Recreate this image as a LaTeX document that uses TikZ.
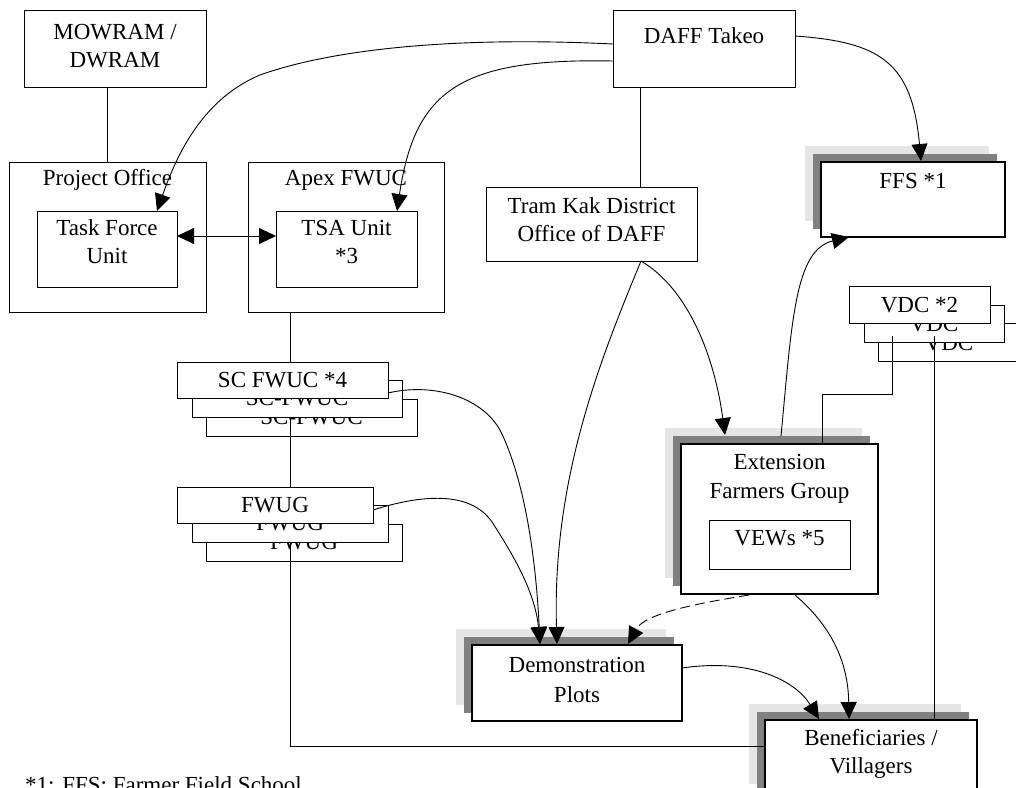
\documentclass[tikz,border=0pt]{standalone}
\usepackage{fontspec}
\setmainfont{Liberation Serif}
\usetikzlibrary{arrows.meta,calc,shadows}
\definecolor{lg}{gray}{0.9}
\definecolor{dg}{gray}{0.5}
\newcommand\bx[6]{\node[#1, minimum width={#5-#3}, minimum height={#6-#4}] (#2) at (#3,#4) {};}
\newcommand\lbl[4]{\node[lbltxt] (#1) at (#2,#3) {#4};}
\begin{document}
\begin{tikzpicture}[x=1pt,y=-1pt,
  every node/.style={font=\fontsize{23}{27.5}\selectfont},
  boxa/.style={draw, line width=0.9pt, fill=white, inner sep=0pt, outer sep=0pt, anchor=north west},
  sbox/.style={boxa, line width=2.6pt,
     general shadow={fill=lg, shadow xshift=-16pt, shadow yshift=16pt},
     general shadow={fill=dg, shadow xshift=-8pt, shadow yshift=8pt}},
  lbltxt/.style={anchor=base, inner sep=0pt},
  ln/.style={line width=0.9pt},
  ar/.style={ln, -{Triangle[length=17pt,width=16pt]}},
  arr/.style={ln, {Triangle[length=17pt,width=16pt]}-{Triangle[length=17pt,width=16pt]}}]
\clip (0,0) rectangle (1016,787);
\fill[white] (0,0) rectangle (1016,787);

% boxes
\bx{boxa}{mow}{24}{10}{206}{87}
\lbl{t1}{115}{39}{MOWRAM /}
\lbl{t2}{115}{67}{DWRAM}
\bx{boxa}{po}{9}{162}{206}{312}
\lbl{t3}{107.5}{185}{Project Office}
\bx{boxa}{tf}{37}{211}{177}{287}
\lbl{t4}{107}{235}{Task Force}
\lbl{t5}{107}{263}{Unit}
\bx{boxa}{apex}{248}{162}{444}{312}
\lbl{t6}{346}{185}{Apex FWUC}
\bx{boxa}{tsa}{276}{211}{417}{287}
\lbl{t7}{346.5}{235}{TSA Unit}
\lbl{t8}{346.5}{263}{*3}
\bx{boxa}{daff}{613}{10}{795}{87}
\lbl{t9}{704}{43}{DAFF Takeo}
\bx{boxa}{tram}{486}{187}{697}{261}
\lbl{t10}{591.5}{213}{Tram Kak District}
\lbl{t11}{591.5}{241}{Office of DAFF}
\bx{sbox}{ffs}{821}{162}{1005}{237}
\lbl{t12}{913}{188}{FFS *1}

\bx{boxa}{vdc3}{878}{323}{1020}{361}
\lbl{t13}{949}{350}{VDC}
\bx{boxa}{vdc2}{864}{305}{1004}{342}
\lbl{t14}{934}{331}{VDC}
\bx{boxa}{vdc1}{849}{286}{990}{323}
\lbl{t15}{919.5}{312}{VDC *2}

\bx{boxa}{sc3}{206}{399}{417}{436}
\lbl{t16}{311.5}{424}{SC-FWUC}
\bx{boxa}{sc2}{192}{380}{402}{417}
\lbl{t17}{297}{405}{SC-FWUC}
\bx{boxa}{sc1}{177}{362}{388}{398}
\lbl{t18}{282.5}{387}{SC FWUC *4}

\bx{boxa}{fw3}{206}{524}{402}{561}
\lbl{t19}{304}{549}{FWUG}
\bx{boxa}{fw2}{192}{505}{388}{542}
\lbl{t20}{290}{530}{FWUG}
\bx{boxa}{fw1}{177}{487}{373}{523}
\lbl{t21}{275}{512}{FWUG}

\bx{sbox}{ext}{681}{444}{878}{594}
\lbl{t22}{779.5}{469}{Extension}
\lbl{t23}{779.5}{498}{Farmers Group}
\bx{boxa}{vew}{709}{520}{850}{569}
\lbl{t24}{779.5}{545}{VEWs *5}

\bx{sbox}{demo}{472}{645}{682}{721}
\lbl{t25}{577}{672}{Demonstration}
\lbl{t26}{577}{702}{Plots}

\bx{sbox}{benef}{765}{720}{977}{800}
\lbl{t27}{871}{745}{Beneficiaries /}
\lbl{t28}{871}{773}{Villagers}

\node[anchor=base west, inner sep=0pt] (foot) at (25,792) {*1: FFS: Farmer Field School};

% plain connectors
\draw[ln] (po.north) -- (po.north |- mow.south);
\draw[ln] ($(apex.south west)+(42,0)$) -- ($(sc1.north west)+(113,0)$);
\draw[ln] ($(sc2.south west)+(98,0)$) -- ($(fw1.north west)+(113,0)$);
\draw[ln] ($(fw2.south west)+(98,0)$) |- ($(benef.north west)+(0,26)$);
\draw[ln] ($(daff.south west)+(27,0)$) -- ($(tram.north west)+(154,0)$);
\draw[ln] ($(vdc2.south west)+(28,-6)$) -- ++(0,58) -| ($(ext.north west)+(141,0)$);
\draw[ln] ($(vdc2.south west)+(70,-6)$) -- ($(benef.north west)+(169,0)$);

% arrows
\draw[ar] ($(daff.north west)+(0,34)$) .. controls (450,36) and (330,50) .. (260,75)
   .. controls (200,100) and (175,160) .. ($(tf.north west)+(120,0)$);
\draw[ar] ($(daff.north west)+(0,51)$) .. controls (460,58) and (415,90) .. ($(tsa.north west)+(121,0)$);
\draw[ar] ($(daff.north east)+(0,26)$) .. controls (880,42) and (912,62) .. ($(ffs.north west)+(100,-1)$);
\draw[ar] ($(ext.north west)+(100,-8)$) .. controls (792,320) and (795,250) .. ($(ffs.south west)+(28,0)$);
\draw[ar] ($(tram.south west)+(155,0)$) .. controls (690,290) and (715,360) .. ($(ext.north west)+(44,-9)$);
\draw[ar] ($(tram.south west)+(155,0)$) .. controls (600,360) and (552,480) .. ($(demo.north west)+(85,-1)$);
\draw[ar] ($(sc1.north east)+(0,31)$) .. controls (430,383) and (480,395) .. (500,430)
   .. controls (525,480) and (536,560) .. ($(demo.north west)+(68,-1)$);
\draw[ar] ($(fw1.north east)+(0,23)$) .. controls (420,495) and (470,490) .. (492,522)
   .. controls (510,550) and (535,590) .. ($(demo.north west)+(68,-1)$);
\draw[ar, dash pattern=on 10pt off 5pt] ($(ext.south west)+(68,1)$) .. controls (700,603) and (645,613) .. ($(demo.north west)+(156,-1)$);
\draw[ar] ($(ext.south west)+(114,1)$) .. controls (830,625) and (848,660) .. ($(benef.north west)+(84,-1)$);
\draw[ar] ($(demo.north east)+(0,23)$) .. controls (750,658) and (795,680) .. ($(benef.north west)+(54,-1)$);
\draw[arr] ($(tf.north east)+(0,25)$) -- ($(tsa.north west)+(0,25)$);
\end{tikzpicture}
\end{document}
